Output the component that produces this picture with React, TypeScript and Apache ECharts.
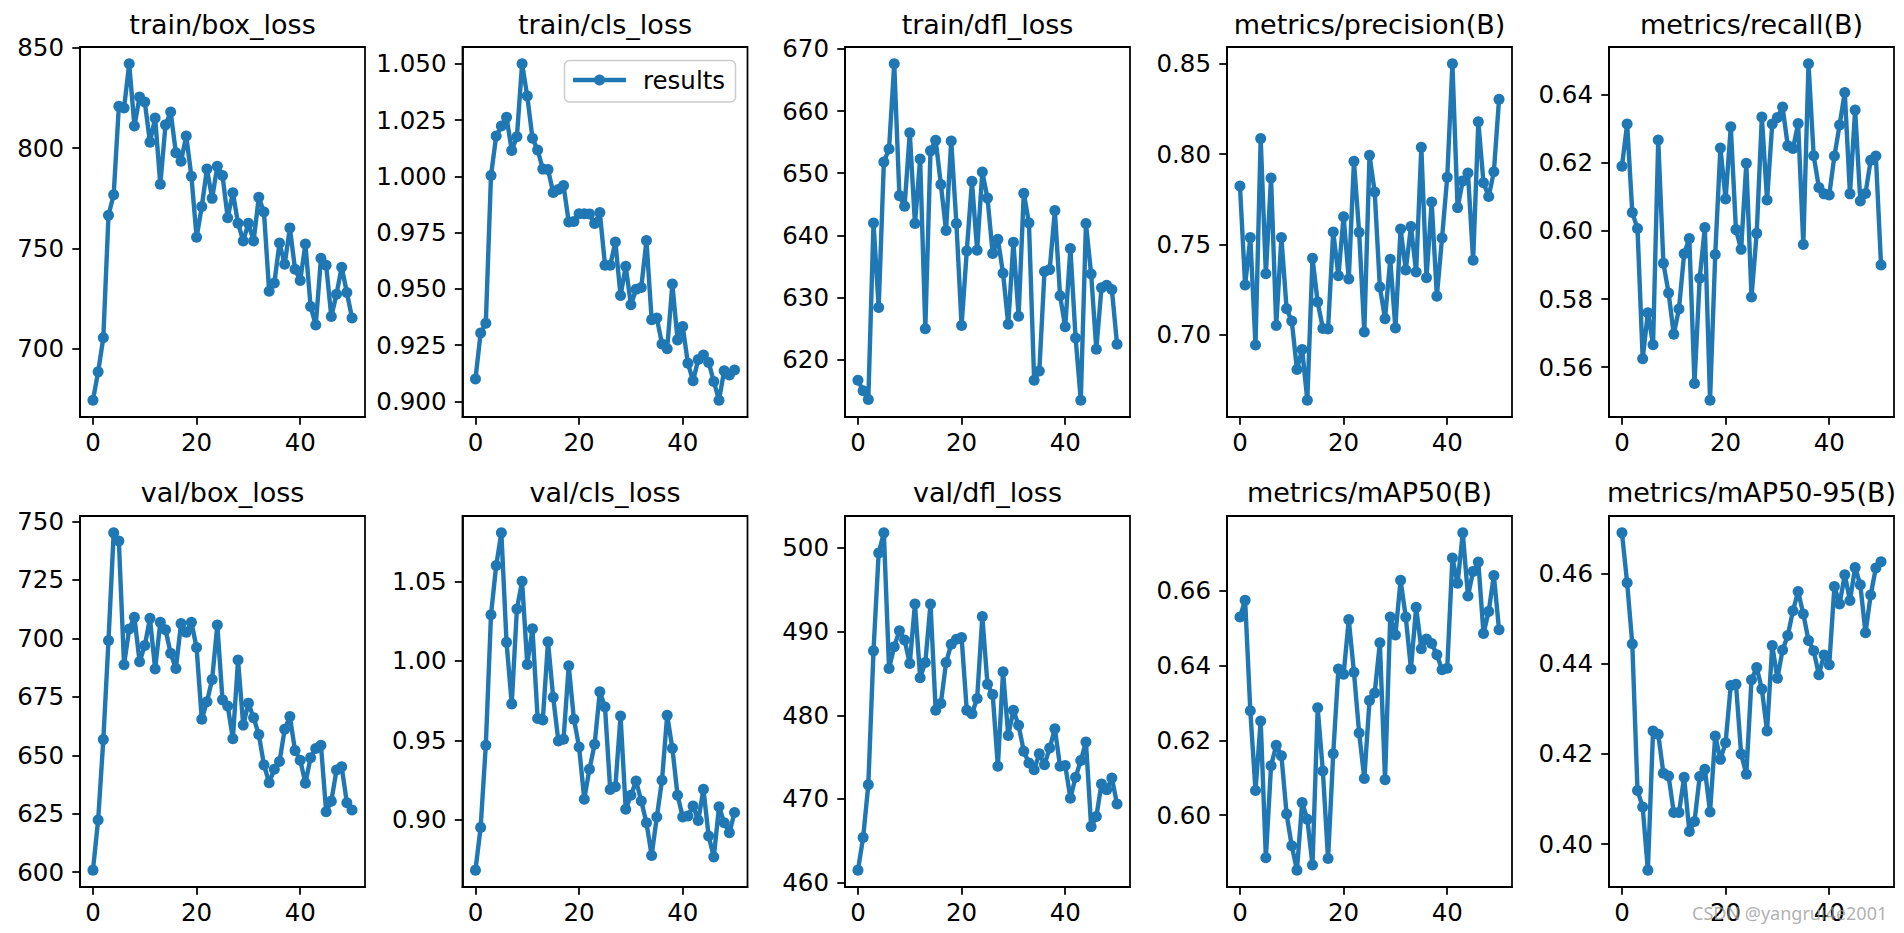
import React, { useEffect, useRef } from "react";
import * as echarts from "echarts";

// ---------- data (epoch 0..50) ----------
const TITLES = [
  "train/box_loss",
  "train/cls_loss",
  "train/dfl_loss",
  "metrics/precision(B)",
  "metrics/recall(B)",
  "val/box_loss",
  "val/cls_loss",
  "val/dfl_loss",
  "metrics/mAP50(B)",
  "metrics/mAP50-95(B)",
];

const TRAIN_BOX_LOSS = [674.5, 688.6, 705.6, 766.6, 776.8, 820.9, 820, 842, 811, 825.5, 823, 803, 815, 782, 811.6, 818, 797.7, 793.5, 806, 786, 755.6, 770.9, 789.6, 775, 791, 786.4, 765.4, 777.8, 762.6, 753.8, 762.6, 753.8, 775.5, 768.2, 728.8, 732.8, 752.8, 742.2, 760.3, 739.7, 734.1, 752.3, 721.2, 711.9, 745.2, 741.7, 716.2, 727.3, 740.7, 728.1, 715.4];
const TRAIN_CLS_LOSS = [0.9099, 0.9304, 0.9347, 1.0004, 1.0179, 1.0224, 1.0262, 1.0115, 1.0176, 1.05, 1.0357, 1.0169, 1.0117, 1.0032, 1.003, 0.9928, 0.9941, 0.9959, 0.9797, 0.9799, 0.9834, 0.9834, 0.9833, 0.979, 0.9839, 0.9605, 0.9605, 0.9708, 0.947, 0.96, 0.9429, 0.9498, 0.9506, 0.9715, 0.9363, 0.937, 0.9255, 0.9234, 0.9521, 0.9273, 0.9332, 0.9169, 0.9091, 0.9186, 0.9206, 0.9173, 0.9088, 0.9005, 0.9136, 0.9117, 0.9139];
const TRAIN_DFL_LOSS = [616.7, 615.0, 613.6, 642.0, 628.4, 651.8, 653.9, 667.6, 646.4, 644.7, 656.5, 641.9, 652.3, 625.0, 653.6, 655.3, 648.2, 640.8, 655.2, 641.9, 625.5, 637.5, 648.7, 637.6, 650.2, 646.0, 637.1, 639.4, 633.9, 625.7, 638.9, 627.0, 646.8, 642.0, 616.7, 618.2, 634.2, 634.5, 644.0, 630.3, 625.3, 637.9, 623.5, 613.5, 641.9, 633.8, 621.7, 631.6, 632.0, 631.3, 622.5];
const PRECISION = [0.7824, 0.7275, 0.7538, 0.6943, 0.8086, 0.7338, 0.7868, 0.7052, 0.7538, 0.7144, 0.7076, 0.6808, 0.6919, 0.6638, 0.7423, 0.7181, 0.7035, 0.7032, 0.7569, 0.7327, 0.7654, 0.7309, 0.7961, 0.7567, 0.7015, 0.7994, 0.7791, 0.7264, 0.7089, 0.7418, 0.7037, 0.7586, 0.7359, 0.7599, 0.7348, 0.8038, 0.7316, 0.7735, 0.7214, 0.7536, 0.7872, 0.85, 0.7704, 0.7852, 0.7896, 0.7412, 0.8179, 0.7842, 0.7765, 0.7902, 0.8304];
const RECALL = [0.619, 0.6314, 0.6054, 0.6007, 0.5625, 0.576, 0.5666, 0.6267, 0.5905, 0.5818, 0.5697, 0.5771, 0.5933, 0.5978, 0.5552, 0.5861, 0.601, 0.5503, 0.5931, 0.6244, 0.6094, 0.6306, 0.6004, 0.5946, 0.6199, 0.5806, 0.5993, 0.6335, 0.6091, 0.6314, 0.6333, 0.6364, 0.625, 0.6242, 0.6316, 0.596, 0.6491, 0.6221, 0.6128, 0.6109, 0.6106, 0.622, 0.6311, 0.6407, 0.6109, 0.6355, 0.6088, 0.611, 0.6208, 0.622, 0.59];
const VAL_BOX_LOSS = [600.9, 622.3, 656.7, 699.1, 745.1, 741.6, 688.7, 704, 709, 690, 696.9, 708.6, 686.9, 706.9, 703.7, 693.6, 687.1, 706.3, 702.6, 706.9, 696.1, 665.4, 672.9, 682.4, 705.7, 673.7, 671.1, 657.1, 690.7, 662.9, 672.3, 666.1, 658.9, 645.9, 638.3, 644, 647.3, 661.1, 666.6, 652, 647.9, 638.1, 649, 652.9, 654.3, 625.9, 630.4, 643.7, 645.1, 629.7, 626.6];
const VAL_CLS_LOSS = [0.8683, 0.8952, 0.9469, 1.029, 1.0599, 1.0805, 1.0116, 0.9729, 1.0326, 1.05, 0.9977, 1.0202, 0.9637, 0.9628, 1.012, 0.9771, 0.9496, 0.9507, 0.9969, 0.9633, 0.9458, 0.9129, 0.9318, 0.9475, 0.9805, 0.971, 0.919, 0.9208, 0.9653, 0.9066, 0.9154, 0.9244, 0.9118, 0.8981, 0.8775, 0.9017, 0.9248, 0.9658, 0.945, 0.9154, 0.9017, 0.9024, 0.9087, 0.8996, 0.9192, 0.8898, 0.8765, 0.9082, 0.8981, 0.8919, 0.9045];
const VAL_DFL_LOSS = [461.5, 465.4, 471.7, 487.7, 499.4, 501.8, 485.6, 488.2, 490.1, 489.0, 486.2, 493.3, 484.5, 486.3, 493.3, 480.6, 481.4, 486.3, 488.5, 489.1, 489.3, 480.6, 480.2, 482.0, 491.8, 483.7, 482.5, 473.9, 485.2, 477.6, 480.6, 478.8, 475.7, 474.3, 473.5, 475.4, 474.1, 476.1, 478.4, 473.9, 474.0, 470.1, 472.6, 474.6, 476.8, 466.7, 467.9, 471.8, 471.1, 472.5, 469.4];
const MAP50 = [0.653, 0.6575, 0.6279, 0.6066, 0.6252, 0.5886, 0.6132, 0.6187, 0.6159, 0.6003, 0.5918, 0.5853, 0.6034, 0.5989, 0.5867, 0.6287, 0.6118, 0.5884, 0.6164, 0.6391, 0.6377, 0.6523, 0.6382, 0.622, 0.6098, 0.6307, 0.6327, 0.6461, 0.6095, 0.653, 0.6482, 0.6628, 0.653, 0.6391, 0.6556, 0.6445, 0.6471, 0.6459, 0.6429, 0.6389, 0.6393, 0.6688, 0.662, 0.6755, 0.6586, 0.6652, 0.6677, 0.6486, 0.6545, 0.6641, 0.6496];
const MAP50_95 = [0.4691, 0.458, 0.4444, 0.4119, 0.4082, 0.3942, 0.4251, 0.4244, 0.4157, 0.4151, 0.407, 0.407, 0.4148, 0.4028, 0.405, 0.415, 0.4166, 0.4071, 0.424, 0.4188, 0.4225, 0.4352, 0.4355, 0.42, 0.4155, 0.4365, 0.4392, 0.4344, 0.4251, 0.4441, 0.4368, 0.4431, 0.4463, 0.4518, 0.4561, 0.4511, 0.4452, 0.4429, 0.4376, 0.442, 0.4398, 0.4572, 0.4533, 0.4598, 0.4541, 0.4614, 0.4576, 0.4469, 0.4553, 0.4613, 0.4627];

const SERIES_DATA = [
  TRAIN_BOX_LOSS, TRAIN_CLS_LOSS, TRAIN_DFL_LOSS, PRECISION, RECALL,
  VAL_BOX_LOSS, VAL_CLS_LOSS, VAL_DFL_LOSS, MAP50, MAP50_95,
];

const Y_TICKS = [
  [700, 750, 800, 850],
  [0.9, 0.925, 0.95, 0.975, 1.0, 1.025, 1.05],
  [620, 630, 640, 650, 660, 670],
  [0.7, 0.75, 0.8, 0.85],
  [0.56, 0.58, 0.6, 0.62, 0.64],
  [600, 625, 650, 675, 700, 725, 750],
  [0.9, 0.95, 1.0, 1.05],
  [460, 470, 480, 490, 500],
  [0.6, 0.62, 0.64, 0.66],
  [0.4, 0.42, 0.44, 0.46],
];
const Y_DECIMALS = [0, 3, 0, 2, 2, 0, 2, 0, 2, 2];
const X_TICKS = [0, 20, 40];
const LEGEND_LABEL = "results";
const WATERMARK = "CSDN @yangrui4e2001";

// ---------- layout / style ----------
const W = 1904;
const H = 933;
const COL_LEFT = [80, 462.5, 845, 1227, 1609];
const ROW_TOP = [47, 516];
const ROW_H = [370, 371];
const PLOT_W = 285;
const TITLE_Y = [24, 492.5];
const BLUE = "#1f77b4";
const FONT = "DejaVu Sans";
const TICK_FS = 24.5;
const TITLE_FS = 27;
const FRAME_W = 1.76;

export default function App() {
  const ref = useRef<HTMLDivElement>(null);

  useEffect(() => {
    if (!ref.current) return;
    const chart = echarts.init(ref.current, undefined, { renderer: "svg" });

    const grids: any[] = [];
    const xAxes: any[] = [];
    const yAxes: any[] = [];
    const series: any[] = [];
    const graphics: any[] = [];

    SERIES_DATA.forEach((vals, i) => {
      const row = Math.floor(i / 5);
      const col = i % 5;
      const left = COL_LEFT[col];
      const top = ROW_TOP[row];
      const height = ROW_H[row];
      grids.push({
        left,
        top,
        width: PLOT_W,
        height,
        show: true,
        borderColor: "#000",
        borderWidth: FRAME_W,
        backgroundColor: "transparent",
        containLabel: false,
      });
      const xs = vals.map((_, j) => j);
      const xMinD = Math.min(...xs);
      const xMaxD = Math.max(...xs);
      const xPad = (xMaxD - xMinD) * 0.05;
      xAxes.push({
        gridIndex: i,
        type: "value",
        min: xMinD - xPad,
        max: xMaxD + xPad,
        axisLine: { show: true, onZero: false, lineStyle: { color: "#000", width: FRAME_W } },
        axisTick: {
          show: true,
          length: 7.7,
          lineStyle: { color: "#000", width: FRAME_W },
          customValues: X_TICKS,
        },
        axisLabel: {
          customValues: X_TICKS,
          fontSize: TICK_FS,
          fontFamily: FONT,
          color: "#000",
          margin: 13,
          formatter: (v: number) => String(Math.round(v)),
        },
        splitLine: { show: false },
      });
      const yMinD = Math.min(...vals);
      const yMaxD = Math.max(...vals);
      const yPad = (yMaxD - yMinD) * 0.05;
      const dec = Y_DECIMALS[i];
      yAxes.push({
        gridIndex: i,
        type: "value",
        min: yMinD - yPad,
        max: yMaxD + yPad,
        axisLine: { show: true, onZero: false, lineStyle: { color: "#000", width: FRAME_W } },
        axisTick: {
          show: true,
          length: 7.7,
          lineStyle: { color: "#000", width: FRAME_W },
          customValues: Y_TICKS[i],
        },
        axisLabel: {
          customValues: Y_TICKS[i],
          fontSize: TICK_FS,
          fontFamily: FONT,
          color: "#000",
          margin: 16,
          formatter: (v: number) => v.toFixed(dec),
        },
        splitLine: { show: false },
      });
      series.push({
        type: "line",
        name: LEGEND_LABEL,
        xAxisIndex: i,
        yAxisIndex: i,
        data: vals.map((v, j) => [xs[j], v]),
        symbol: "circle",
        symbolSize: 11,
        showAllSymbol: true,
        lineStyle: { color: BLUE, width: 4.4 },
        itemStyle: { color: BLUE, borderWidth: 0 },
        emphasis: { disabled: true },
        clip: false,
      });
      graphics.push({
        type: "text",
        x: left + PLOT_W / 2,
        y: TITLE_Y[row],
        style: {
          text: TITLES[i],
          fontSize: TITLE_FS,
          fontFamily: FONT,
          fill: "#000",
          align: "center",
          verticalAlign: "middle",
        },
      });
    });

    // legend box inside train/cls_loss panel (upper right)
    graphics.push({
      type: "rect",
      shape: { x: 564.5, y: 60.5, width: 171, height: 41.5, r: 5 },
      style: { fill: "rgba(255,255,255,0.8)", stroke: "#cccccc", lineWidth: 1.5 },
      z: 10,
    });
    graphics.push({
      type: "line",
      shape: { x1: 573, y1: 80, x2: 626, y2: 80 },
      style: { stroke: BLUE, lineWidth: 4.4 },
      z: 11,
    });
    graphics.push({
      type: "circle",
      shape: { cx: 599.5, cy: 80, r: 5.5 },
      style: { fill: BLUE },
      z: 11,
    });
    graphics.push({
      type: "text",
      x: 643,
      y: 80,
      style: {
        text: LEGEND_LABEL,
        fontSize: TICK_FS,
        fontFamily: FONT,
        fill: "#000",
        align: "left",
        verticalAlign: "middle",
      },
      z: 11,
    });
    // watermark
    graphics.push({
      type: "text",
      x: 1692,
      y: 913,
      style: {
        text: WATERMARK,
        fontSize: 18,
        fontFamily: "Noto Sans",
        fill: "rgba(150,150,150,0.75)",
        align: "left",
        verticalAlign: "middle",
      },
      z: 20,
    });

    chart.setOption({
      animation: false,
      backgroundColor: "#fff",
      grid: grids,
      xAxis: xAxes,
      yAxis: yAxes,
      series,
      graphic: graphics,
    });

    return () => chart.dispose();
  }, []);

  return (
    <div
      ref={ref}
      style={{ position: "absolute", left: 0, top: 0, width: W, height: H }}
    />
  );
}
